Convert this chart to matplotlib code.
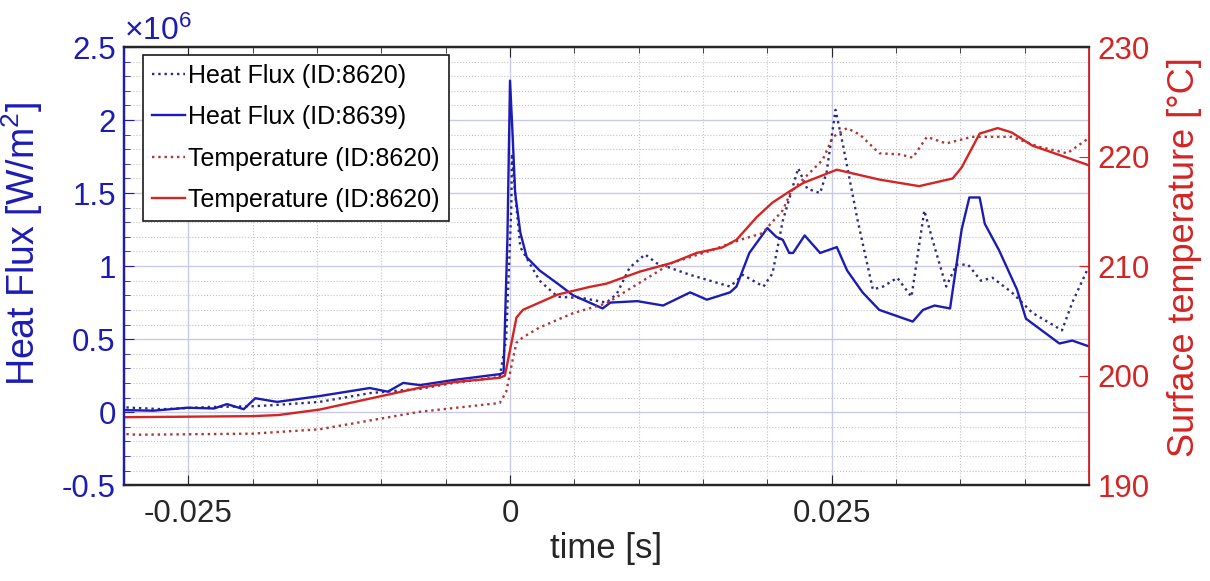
import numpy as np
import matplotlib
matplotlib.use("Agg")
import matplotlib.pyplot as plt
from matplotlib.ticker import MultipleLocator

plt.rcParams['font.family'] = ['Liberation Sans', 'DejaVu Sans']
plt.rcParams['mathtext.fontset'] = 'custom'
plt.rcParams['mathtext.rm'] = 'Liberation Sans'
plt.rcParams['mathtext.it'] = 'Liberation Sans:italic'

# heat flux, ID 8620 (dotted), units of 1e6 W/m^2
t_hf8620 = [-0.0303, -0.027, -0.0235, -0.0200, -0.0180, -0.0148, -0.0109, -0.0070, -0.0044,
            -0.0008, -0.0003, 0.0001, 0.00015, 0.0004, 0.0008, 0.0023, 0.0037, 0.0057, 0.0075,
            0.0083, 0.0093, 0.0105, 0.0114, 0.0140, 0.0171, 0.0181, 0.0197, 0.0204, 0.0212,
            0.0224, 0.0231, 0.0241, 0.0246, 0.0253, 0.0259, 0.0270, 0.0282, 0.0290, 0.0301,
            0.0312, 0.0322, 0.0329, 0.0339, 0.0347, 0.0356, 0.0366, 0.0375, 0.0390, 0.0406,
            0.0429, 0.0437, 0.0450]
hf8620 = [0.034, 0.02, 0.035, 0.04, 0.05, 0.07, 0.13, 0.16, 0.20,
          0.24, 0.5, 1.4, 1.77, 1.5, 1.13, 0.90, 0.79, 0.78, 0.75,
          0.81, 0.99, 1.08, 1.02, 0.94, 0.86, 0.94, 0.86, 0.95, 1.31,
          1.67, 1.53, 1.50, 1.64, 2.07, 1.82, 1.32, 0.84, 0.86, 0.92,
          0.79, 1.38, 1.16, 0.86, 1.01, 1.01, 0.90, 0.92, 0.82, 0.68,
          0.56, 0.75, 1.0]

# heat flux, ID 8639 (solid)
t_hf8639 = [-0.0303, -0.0277, -0.0251, -0.0230, -0.0220, -0.0207, -0.0198, -0.0181, -0.0148,
            -0.0109, -0.0095, -0.0083, -0.0070, -0.0044, -0.0008, -0.0005, -0.0002, 0.0000,
            0.0002, 0.0004, 0.0008, 0.0013, 0.0023, 0.0037, 0.0049, 0.0072, 0.0078, 0.0099,
            0.0119, 0.0140, 0.0153, 0.0171, 0.0176, 0.0186, 0.0200, 0.0207, 0.0212, 0.0217,
            0.0220, 0.0229, 0.0241, 0.0254, 0.0262, 0.0274, 0.0287, 0.0313, 0.0321, 0.0330,
            0.0342, 0.0351, 0.0357, 0.0365, 0.0369, 0.0380, 0.0394, 0.0401, 0.0427, 0.0437,
            0.0450]
hf8639 = [0.014, 0.01, 0.03, 0.025, 0.055, 0.02, 0.095, 0.07, 0.11,
          0.165, 0.14, 0.20, 0.185, 0.22, 0.26, 0.27, 1.2, 2.27,
          1.9, 1.5, 1.23, 1.06, 0.97, 0.88, 0.80, 0.71, 0.75, 0.76,
          0.73, 0.82, 0.77, 0.82, 0.86, 1.09, 1.26, 1.20, 1.18, 1.09,
          1.09, 1.21, 1.09, 1.13, 0.97, 0.82, 0.70, 0.62, 0.70, 0.73,
          0.71, 1.25, 1.47, 1.47, 1.29, 1.11, 0.84, 0.64, 0.47, 0.49,
          0.45]

# surface temperature, dotted
t_temp_a = [-0.0303, -0.0290, -0.0200, -0.0148, -0.0109, -0.0070, -0.0008, -0.0003, 0.0002,
            0.0005, 0.0010, 0.0023, 0.0049, 0.0075, 0.0101, 0.0126, 0.0153, 0.0179, 0.0196,
            0.0212, 0.0218, 0.0225, 0.0243, 0.0251, 0.0262, 0.0272, 0.0287, 0.0303, 0.0313,
            0.0324, 0.0339, 0.0359, 0.0390, 0.0411, 0.0433, 0.0450]
temp_a = [194.7, 194.6, 194.7, 195.1, 195.9, 196.7, 197.5, 198.5, 201.4,
          203.0, 203.5, 204.4, 205.7, 206.6, 208.5, 210.3, 211.3, 212.4, 213.0,
          215.1, 216.7, 217.6, 219.7, 221.8, 222.6, 222.0, 220.3, 220.2, 219.9,
          221.8, 221.2, 221.8, 221.8, 220.9, 220.3, 221.7]

# surface temperature, solid
t_temp_b = [-0.0303, -0.0200, -0.0180, -0.0148, -0.0109, -0.0070, -0.0044, -0.0008, -0.0004,
            0.0002, 0.0005, 0.0010, 0.0037, 0.0062, 0.0075, 0.0101, 0.0126, 0.0145, 0.0165,
            0.0176, 0.0192, 0.0204, 0.0217, 0.0228, 0.0254, 0.0287, 0.0318, 0.0344, 0.0351,
            0.0365, 0.0379, 0.0390, 0.0406, 0.0433, 0.0450]
temp_b = [196.2, 196.3, 196.4, 196.9, 197.9, 198.9, 199.4, 199.8, 200.0,
          203.5, 205.3, 206.0, 207.4, 208.1, 208.4, 209.5, 210.3, 211.2, 211.7,
          212.4, 214.5, 215.8, 216.8, 217.6, 218.8, 217.9, 217.3, 218.0, 219.0,
          222.1, 222.6, 222.2, 221.0, 219.9, 219.2]

labels = ['Heat Flux (ID:8620)', 'Heat Flux (ID:8639)',
          'Temperature (ID:8620)', 'Temperature (ID:8620)']
xticks = [-0.025, 0, 0.025]
xticklabels = ['-0.025', '0', '0.025']
yticks_left = [-0.5, 0, 0.5, 1, 1.5, 2, 2.5]
yticklabels_left = ['-0.5', '0', '0.5', '1', '1.5', '2', '2.5']
yticks_right = [190, 200, 210, 220, 230]

blue = '#1c1cb4'
blue_dot = '#2b2b85'
red = '#d42424'
red_dot = '#b03535'
dark = '#262626'

fig = plt.figure(figsize=(12.1, 5.81), dpi=100)
ax = fig.add_axes([0.1025, 0.165, 0.7975, 0.754])
ax2 = ax.twinx()

l1, = ax.plot(t_hf8620, hf8620, ':', color=blue_dot, lw=1.7)
l2, = ax.plot(t_hf8639, hf8639, '-', color=blue, lw=1.7)
l3, = ax2.plot(t_temp_a, temp_a, ':', color=red_dot, lw=1.7)
l4, = ax2.plot(t_temp_b, temp_b, '-', color=red, lw=1.7)

ax.set_xlim(-0.03, 0.045)
ax.set_ylim(-0.5, 2.5)
ax2.set_ylim(190, 230)

ax.set_xticks(xticks)
ax.set_xticklabels(xticklabels)
ax.xaxis.set_minor_locator(MultipleLocator(0.005))
ax.set_yticks(yticks_left)
ax.set_yticklabels(yticklabels_left)
ax.yaxis.set_minor_locator(MultipleLocator(0.1))
ax2.set_yticks(yticks_right)

# grids
ax.grid(True, which='major', color='#c9cbe6', lw=1.0, ls='-')
ax.grid(True, which='minor', color='#c4c4c4', lw=0.8, ls=':')
ax.set_axisbelow(True)

ax.tick_params(axis='x', which='both', direction='in', top=True, colors=dark, labelsize=22.5, pad=10)
ax.tick_params(axis='x', which='major', length=7)
ax.tick_params(axis='x', which='minor', length=4)
ax.tick_params(axis='y', which='both', direction='in', colors=blue, labelsize=22.5, pad=6)
ax.tick_params(axis='y', which='major', length=7)
ax.tick_params(axis='y', which='minor', length=4)
ax2.tick_params(axis='y', which='both', direction='in', colors=red, labelsize=22.5, length=7, pad=6)

for s in ['top', 'bottom']:
    ax.spines[s].set_color(dark)
    ax.spines[s].set_linewidth(1.6)
    ax2.spines[s].set_color(dark)
    ax2.spines[s].set_linewidth(1.6)
ax.spines['left'].set_color(blue)
ax.spines['left'].set_linewidth(1.6)
ax2.spines['left'].set_color(blue)
ax2.spines['left'].set_linewidth(1.6)
ax2.spines['right'].set_color(red)
ax2.spines['right'].set_linewidth(1.3)

ax.set_xlabel('time [s]', fontsize=25, color=dark, labelpad=2)
ax.set_ylabel('Heat Flux [W/m$^2$]', fontsize=27, color=blue)
ax.yaxis.set_label_coords(-0.082, 0.55)
ax2.set_ylabel('Surface temperature [°C]', fontsize=26, color=red)
ax2.yaxis.set_label_coords(1.081, 0.52)

ax.text(0.0, 1.0, r'$\times10^{6}$', transform=ax.transAxes, fontsize=23,
        color=blue, ha='left', va='bottom')

leg = ax2.legend([l1, l2, l3, l4], labels, loc='upper left', bbox_to_anchor=(0.02, 0.982),
                 borderaxespad=0, fontsize=18, handlelength=1.3, handletextpad=0.15,
                 labelspacing=0.7, borderpad=0.35, fancybox=False, framealpha=1,
                 edgecolor='#1a1a1a')
leg.get_frame().set_linewidth(1.2)

fig.savefig('out.png', dpi=100)
